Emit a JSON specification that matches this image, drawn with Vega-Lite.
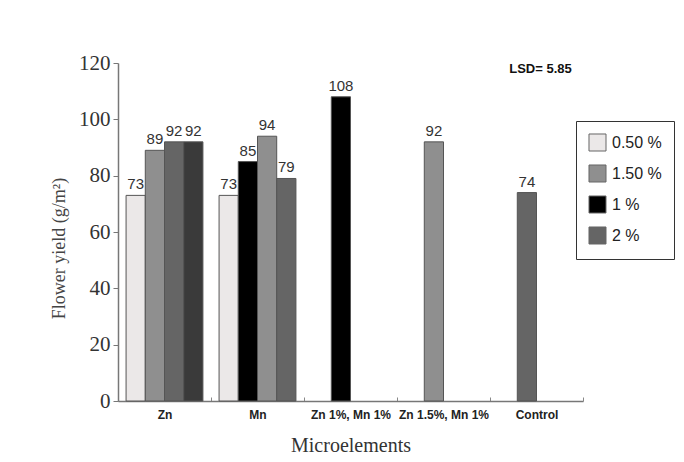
{
  "$schema": "https://vega.github.io/schema/vega-lite/v6.json",
  "autosize": {"type": "none"},
  "width": 465,
  "height": 338,
  "padding": {"left": 118, "top": 63, "right": 101, "bottom": 61},
  "background": "white",
  "config": {"view": {"stroke": null}},
  "data": {
    "values": [
      {"group": "Zn", "slot": 0, "shade": "0.50 %", "value": 73},
      {"group": "Zn", "slot": 1, "shade": "1.50 %", "value": 89},
      {"group": "Zn", "slot": 2, "shade": "2 %", "value": 92},
      {"group": "Zn", "slot": 3, "shade": "dark", "value": 92},
      {"group": "Mn", "slot": 0, "shade": "0.50 %", "value": 73},
      {"group": "Mn", "slot": 1, "shade": "1 %", "value": 85},
      {"group": "Mn", "slot": 2, "shade": "1.50 %", "value": 94},
      {"group": "Mn", "slot": 3, "shade": "2 %", "value": 79},
      {"group": "Zn 1%, Mn 1%", "slot": 1, "shade": "1 %", "value": 108},
      {"group": "Zn 1.5%, Mn 1%", "slot": 1, "shade": "1.50 %", "value": 92},
      {"group": "Control", "slot": 1, "shade": "2 %", "value": 74}
    ]
  },
  "encoding": {
    "x": {
      "field": "group",
      "type": "nominal",
      "sort": ["Zn", "Mn", "Zn 1%, Mn 1%", "Zn 1.5%, Mn 1%", "Control"],
      "scale": {"paddingInner": 0, "paddingOuter": 0},
      "axis": {
        "title": "Microelements",
        "titleFont": "Liberation Serif",
        "titleFontSize": 20,
        "titleFontWeight": "normal",
        "titleColor": "#333",
        "titlePadding": 15,
        "labelAngle": 0,
        "labelFont": "Liberation Sans",
        "labelFontWeight": "bold",
        "labelFontSize": 12,
        "labelColor": "#222",
        "labelPadding": 12,
        "tickBand": "extent",
        "tickSize": -4,
        "tickColor": "#888",
        "domainColor": "#777",
        "domainWidth": 1.5
      }
    },
    "y": {
      "field": "value",
      "type": "quantitative",
      "scale": {"domain": [0, 120]},
      "axis": {
        "title": "Flower yield (g/m²)",
        "titleFont": "Liberation Serif",
        "titleFontSize": 18,
        "titleFontWeight": "normal",
        "titleColor": "#444",
        "titlePadding": 10,
        "titleY": 185,
        "values": [0, 20, 40, 60, 80, 100, 120],
        "labelFont": "Liberation Serif",
        "labelFontSize": 21,
        "labelColor": "#333",
        "labelPadding": 3,
        "tickSize": 5,
        "tickColor": "#777",
        "domainColor": "#777",
        "domainWidth": 1.5,
        "grid": false
      }
    }
  },
  "layer": [
    {
      "mark": {"type": "bar", "stroke": "#555", "strokeWidth": 1},
      "encoding": {
        "xOffset": {
          "field": "slot",
          "type": "ordinal",
          "scale": {"domain": [0, 1, 2, 3], "paddingInner": 0, "paddingOuter": 0.42}
        },
        "color": {
          "field": "shade",
          "type": "nominal",
          "scale": {
            "domain": ["0.50 %", "1.50 %", "1 %", "2 %", "dark"],
            "range": ["#ebe8e8", "#8f8f8f", "#000000", "#656565", "#3a3a3a"]
          },
          "legend": {
            "title": null,
            "values": ["0.50 %", "1.50 %", "1 %", "2 %"],
            "orient": "none",
            "legendX": 458,
            "legendY": 58,
            "strokeColor": "#333",
            "padding": 12,
            "symbolType": "square",
            "symbolSize": 290,
            "symbolStrokeColor": "#666",
            "symbolStrokeWidth": 1,
            "labelFont": "Liberation Sans",
            "labelFontSize": 16,
            "labelColor": "#222",
            "labelOffset": 5,
            "rowPadding": 8
          }
        }
      }
    },
    {
      "mark": {"type": "text", "baseline": "bottom", "dy": -3, "font": "Liberation Sans", "fontSize": 15, "color": "#333"},
      "encoding": {
        "xOffset": {
          "field": "slot",
          "type": "ordinal",
          "scale": {"domain": [0, 1, 2, 3], "paddingInner": 0, "paddingOuter": 0.42}
        },
        "text": {"field": "value", "type": "quantitative"}
      }
    },
    {
      "data": {"values": [{"group": "Control", "value": 120, "label": "LSD= 5.85"}]},
      "mark": {"type": "text", "baseline": "middle", "dx": 4, "dy": 6, "font": "Liberation Sans", "fontSize": 13, "fontWeight": "bold", "color": "#111"},
      "encoding": {
        "text": {"field": "label", "type": "nominal"}
      }
    }
  ]
}
